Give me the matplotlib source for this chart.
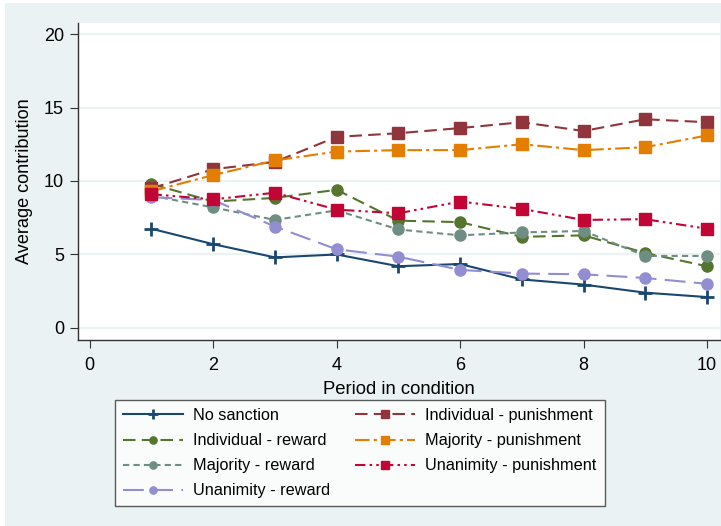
import numpy as np
import matplotlib.pyplot as plt
from matplotlib.patches import Rectangle

plt.rcParams['font.family'] = ['Liberation Sans', 'DejaVu Sans']

# period 1..10
periods = np.arange(1, 11)

no_sanction = [6.75, 5.7, 4.8, 5.0, 4.2, 4.35, 3.3, 2.95, 2.4, 2.1]
ind_reward = [9.8, 8.6, 8.85, 9.4, 7.3, 7.2, 6.2, 6.3, 5.1, 4.2]
maj_reward = [9.0, 8.2, 7.35, 8.0, 6.7, 6.3, 6.5, 6.6, 4.9, 4.9]
una_reward = [8.9, 8.7, 6.9, 5.35, 4.85, 3.95, 3.7, 3.65, 3.4, 3.0]
ind_punish = [9.5, 10.8, 11.3, 13.0, 13.25, 13.6, 14.0, 13.4, 14.2, 14.0]
maj_punish = [9.3, 10.4, 11.4, 12.0, 12.1, 12.1, 12.5, 12.1, 12.3, 13.1]
una_punish = [9.1, 8.75, 9.2, 8.05, 7.8, 8.6, 8.1, 7.35, 7.4, 6.75]

labels = ["No sanction", "Individual - reward", "Majority - reward",
          "Unanimity - reward", "Individual - punishment",
          "Majority - punishment", "Unanimity - punishment"]

bg = "#eaf2f3"

fig = plt.figure(figsize=(7.21, 5.26), dpi=100)
fig.patch.set_facecolor("white")
fig.patches.append(Rectangle((5/721, 0), 1, 523/526, transform=fig.transFigure,
                             facecolor=bg, edgecolor="none", zorder=-10))

ax = fig.add_axes([78/721, 1 - 340/526, 642/721, 317/526])
ax.set_facecolor("white")

ax.plot(periods, no_sanction, color="#1a476f", lw=1.5, marker="+", ms=10, mew=2,
        label=labels[0])
ax.plot(periods, ind_reward, color="#55752f", lw=1.5, ls=(0, (6, 3)), marker="o",
        ms=8, label=labels[1])
ax.plot(periods, maj_reward, color="#6e8e84", lw=1.5, ls=(0, (3, 2)), marker="o",
        ms=8, label=labels[2])
ax.plot(periods, una_reward, color="#938dd2", lw=1.5, ls=(0, (10, 4)), marker="o",
        ms=8, label=labels[3])
ax.plot(periods, ind_punish, color="#90353b", lw=1.5, ls=(0, (6, 3)), marker="s",
        ms=8, label=labels[4])
ax.plot(periods, maj_punish, color="#e37e00", lw=1.5, ls=(0, (7, 2, 1.5, 2)), marker="s",
        ms=8, label=labels[5])
ax.plot(periods, una_punish, color="#c10534", lw=1.5, ls=(0, (5, 2, 1.2, 2, 1.2, 2)),
        marker="s", ms=8, label=labels[6])

ax.set_xlim(-0.19, 10.21)
ax.set_ylim(-0.82, 20.75)
ax.set_xticks([0, 2, 4, 6, 8, 10])
ax.set_yticks([0, 5, 10, 15, 20])
ax.grid(axis="y", color=bg, lw=1.6)
ax.set_axisbelow(True)
for s in ["top", "right"]:
    ax.spines[s].set_visible(False)
for s in ["left", "bottom"]:
    ax.spines[s].set_color("#333333")
    ax.spines[s].set_linewidth(1.0)
ax.tick_params(labelsize=13, length=6, color="#333333", pad=4)
ax.tick_params(axis="x", pad=6)
ax.set_xlabel("Period in condition", fontsize=13.3, labelpad=5)
ax.set_ylabel("Average contribution", fontsize=13.1, labelpad=8)

handles, labs = ax.get_legend_handles_labels()
leg = fig.legend(handles, labs, loc="upper left", bbox_to_anchor=(115/721, 1 - 400/526),
                 borderaxespad=0, ncol=2, fontsize=11.7, frameon=True, fancybox=False,
                 handlelength=3.7, markerscale=0.65, columnspacing=1.55,
                 labelspacing=0.62, borderpad=0.5, handletextpad=0.6)
leg.get_frame().set_edgecolor("#333333")
leg.get_frame().set_linewidth(1.0)

plt.savefig("out.png", dpi=100, facecolor=fig.get_facecolor())
